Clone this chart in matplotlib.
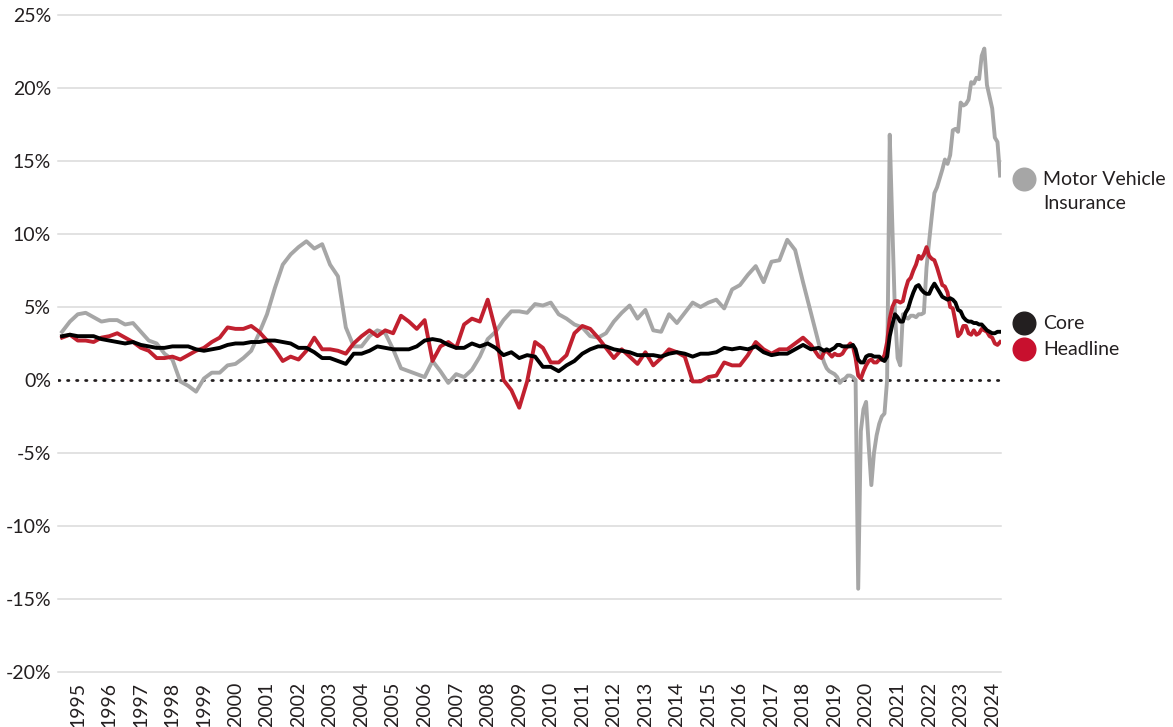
import matplotlib
matplotlib.use("Agg")
import matplotlib.pyplot as plt
import matplotlib.transforms as mtransforms
import numpy as np

# time axis: quarterly points 1995-2018, monthly points 2019 - Oct 2024
quarterly_t = 1995 + np.arange(96) / 4
monthly_t = 2019 + np.arange(70) / 12
t = np.concatenate([quarterly_t, monthly_t])

years = list(range(1995, 2025))
y_ticks = [-20, -15, -10, -5, 0, 5, 10, 15, 20, 25]

motor_insurance = [
    3.3, 4.0, 4.5, 4.6,   4.3, 4.0, 4.1, 4.1,   3.8, 3.9, 3.3, 2.7,   2.5, 1.8, 1.4, -0.1,
    -0.4, -0.8, 0.1, 0.5, 0.5, 1.0, 1.1, 1.5,   2.0, 3.2, 4.5, 6.3,   7.9, 8.6, 9.1, 9.5,
    9.0, 9.3, 7.9, 7.1,   3.6, 2.3, 2.3, 3.0,   3.4, 3.2, 2.1, 0.8,   0.6, 0.4, 0.2, 1.3,
    0.6, -0.2, 0.4, 0.2,  0.7, 1.6, 2.8, 3.3,   4.1, 4.7, 4.7, 4.6,   5.2, 5.1, 5.3, 4.5,
    4.2, 3.8, 3.6, 3.0,   2.9, 3.2, 4.0, 4.6,   5.1, 4.2, 4.8, 3.4,   3.3, 4.5, 3.9, 4.6,
    5.3, 5.0, 5.3, 5.5,   4.9, 6.2, 6.5, 7.2,   7.8, 6.7, 8.1, 8.2,   9.6, 8.9, 6.7, 4.6,
    # 2019-2024 monthly
    2.5, 1.8, 1.2, 0.8, 0.6, 0.5, 0.4, 0.2, -0.2, 0.0, 0.1, 0.3,
    0.3, 0.2, 0.0, -14.3, -3.5, -2.0, -1.5, -4.5, -7.2, -5.0, -3.8, -3.0,
    -2.5, -2.3, 0.0, 16.8, 10.5, 4.5, 1.5, 1.0, 4.5, 4.3, 4.2, 4.4,
    4.4, 4.3, 4.5, 4.5, 4.6, 7.7, 9.5, 11.2, 12.8, 13.2, 13.8, 14.4,
    15.1, 14.8, 15.4, 17.1, 17.2, 17.0, 19.0, 18.8, 18.9, 19.2, 20.4, 20.3,
    20.7, 20.6, 22.2, 22.7, 20.2, 19.4, 18.6, 16.6, 16.3, 14.0,
]

headline = [
    2.9, 3.1, 2.7, 2.7,   2.6, 2.9, 3.0, 3.2,   2.9, 2.6, 2.2, 2.0,   1.5, 1.5, 1.6, 1.4,
    1.7, 2.0, 2.2, 2.6,   2.9, 3.6, 3.5, 3.5,   3.7, 3.3, 2.7, 2.1,   1.3, 1.6, 1.4, 2.0,
    2.9, 2.1, 2.1, 2.0,   1.8, 2.5, 3.0, 3.4,   3.0, 3.4, 3.2, 4.4,   4.0, 3.5, 4.1, 1.3,
    2.3, 2.6, 2.2, 3.8,   4.2, 4.0, 5.5, 3.4,   0.0, -0.7, -1.9, -0.1, 2.6, 2.2, 1.2, 1.2,
    1.7, 3.2, 3.7, 3.5,   2.9, 2.2, 1.5, 2.1,   1.6, 1.1, 1.9, 1.0,   1.5, 2.1, 1.9, 1.6,
    -0.1, -0.1, 0.2, 0.3, 1.2, 1.0, 1.0, 1.7,   2.6, 2.1, 1.8, 2.1,   2.1, 2.5, 2.9, 2.4,
    # 2019-2024 monthly
    1.6, 1.5, 1.9, 2.0, 1.8, 1.6, 1.8, 1.7, 1.7, 1.8, 2.1, 2.3,
    2.5, 2.3, 1.5, 0.3, 0.1, 0.6, 1.0, 1.3, 1.4, 1.2, 1.2, 1.4,
    1.4, 1.7, 2.6, 4.2, 5.0, 5.4, 5.4, 5.3, 5.4, 6.2, 6.8, 7.0,
    7.5, 7.9, 8.5, 8.3, 8.6, 9.1, 8.5, 8.3, 8.2, 7.7, 7.1, 6.5,
    6.4, 6.0, 5.0, 4.9, 4.0, 3.0, 3.2, 3.7, 3.7, 3.2, 3.1, 3.4,
    3.1, 3.2, 3.5, 3.4, 3.3, 3.0, 2.9, 2.5, 2.4, 2.6,
]

core = [
    3.0, 3.1, 3.0, 3.0,   3.0, 2.8, 2.7, 2.6,   2.5, 2.6, 2.4, 2.3,   2.2, 2.2, 2.3, 2.3,
    2.3, 2.1, 2.0, 2.1,   2.2, 2.4, 2.5, 2.5,   2.6, 2.6, 2.7, 2.7,   2.6, 2.5, 2.2, 2.2,
    1.9, 1.5, 1.5, 1.3,   1.1, 1.8, 1.8, 2.0,   2.3, 2.2, 2.1, 2.1,   2.1, 2.3, 2.7, 2.8,
    2.7, 2.4, 2.2, 2.2,   2.5, 2.3, 2.5, 2.2,   1.7, 1.9, 1.5, 1.7,   1.6, 0.9, 0.9, 0.6,
    1.0, 1.3, 1.8, 2.1,   2.3, 2.3, 2.1, 2.0,   1.9, 1.7, 1.7, 1.7,   1.6, 1.8, 1.9, 1.8,
    1.6, 1.8, 1.8, 1.9,   2.2, 2.1, 2.2, 2.1,   2.3, 1.9, 1.7, 1.8,   1.8, 2.1, 2.4, 2.1,
    # 2019-2024 monthly
    2.2, 2.1, 2.0, 2.1, 2.0, 2.1, 2.2, 2.4, 2.4, 2.3, 2.3, 2.3,
    2.3, 2.4, 2.1, 1.4, 1.2, 1.2, 1.6, 1.7, 1.7, 1.6, 1.6, 1.6,
    1.4, 1.3, 1.6, 3.0, 3.8, 4.5, 4.3, 4.0, 4.0, 4.6, 4.9, 5.5,
    6.0, 6.4, 6.5, 6.2, 6.0, 5.9, 5.9, 6.3, 6.6, 6.3, 6.0, 5.7,
    5.6, 5.5, 5.6, 5.5, 5.3, 4.8, 4.7, 4.3, 4.1, 4.0, 4.0, 3.9,
    3.9, 3.8, 3.8, 3.6, 3.4, 3.3, 3.2, 3.2, 3.3, 3.3,
]

GRAY = "#a6a6a6"
RED = "#c1202f"
BLACK = "#000000"
TEXT = "#231f20"

plt.rcParams["font.family"] = ["Lato", "DejaVu Sans"]

fig = plt.figure(figsize=(11.73, 7.27), dpi=100)
ax = fig.add_axes([0.0494, 0.0757, 0.804, 0.9037])

for v in y_ticks:
    if v != 0:
        ax.axhline(v, color="#dadada", lw=1.1, zorder=0, clip_on=False)
ax.axhline(0, color=TEXT, lw=2.0, ls=(0, (0.5, 2.75)), dash_capstyle="round", zorder=1)

ax.plot(t, motor_insurance, color=GRAY, lw=2.8, zorder=2, solid_joinstyle="round")
ax.plot(t, headline, color=RED, lw=2.8, zorder=3, solid_joinstyle="round")
ax.plot(t, core, color=BLACK, lw=2.8, zorder=4, solid_joinstyle="round")

ax.set_xlim(1994.87, 2024.78)
ax.set_ylim(-20, 25)
ax.set_yticks(y_ticks)
ax.set_yticklabels([f"{v}%" for v in y_ticks])
ax.set_xticks([y + 0.5 for y in years])
ax.set_xticklabels([str(y) for y in years], rotation=90, va="top")
ax.tick_params(axis="both", length=0, labelsize=14, colors=TEXT)
ax.tick_params(axis="y", pad=5)
ax.tick_params(axis="x", pad=7)
for s in ax.spines.values():
    s.set_visible(False)

# series labels on the right
blend = mtransforms.blended_transform_factory(ax.transAxes, ax.transData)
labels = [("Motor Vehicle\nInsurance", GRAY, 13.75), ("Core", "#231f20", 3.9), ("Headline", "#c8102e", 2.1)]
for text, color, ypos in labels:
    ax.plot([1.0245], [ypos], "o", ms=16.3, color=color, transform=blend, clip_on=False)
    if "\n" in text:
        ax.text(1.0445, ypos + 0.55, text, transform=blend, va="top", ha="left",
                fontsize=14, color=TEXT, linespacing=1.5)
    else:
        ax.text(1.0445, ypos, text, transform=blend, va="center", ha="left",
                fontsize=14, color=TEXT)

fig.savefig("out.png", dpi=100)
